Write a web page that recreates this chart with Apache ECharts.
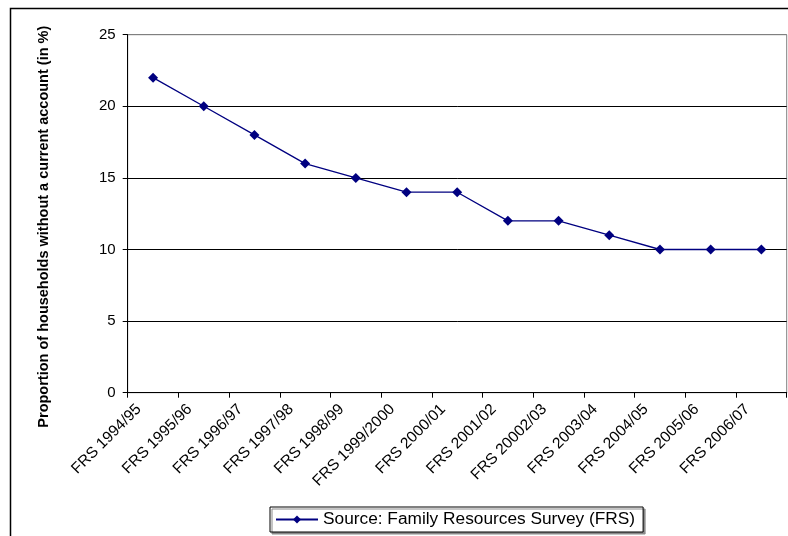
<!DOCTYPE html>
<html style="height: 100%">
<head>
    <meta charset="utf-8">
    <script src="https://cdn.jsdelivr.net/npm/echarts@6/dist/echarts.min.js"></script>
</head>
<body style="height: 100%;margin: 0;background: #fff">
<div id="chart" style="width: 788px;height: 536px;"></div>
<script type="text/javascript">
// survey years and share of households without a current account
var years = ['FRS 1994/95', 'FRS 1995/96', 'FRS 1996/97', 'FRS 1997/98', 'FRS 1998/99',
    'FRS 1999/2000', 'FRS 2000/01', 'FRS 2001/02', 'FRS 20002/03', 'FRS 2003/04',
    'FRS 2004/05', 'FRS 2005/06', 'FRS 2006/07'];
var noAccount = [22, 20, 18, 16, 15, 14, 14, 12, 12, 11, 10, 10, 10];
var seriesName = 'Source: Family Resources Survey (FRS)';
var yTitle = 'Proportion of households without a current account (in %)';

var myChart = echarts.init(document.getElementById('chart'));
var font = 'Liberation Sans, Arial, sans-serif';
var option = {
    animation: false,
    backgroundColor: '#fff',
    // outer chart frame (runs off the right/bottom edge like the original)
    graphic: [{
        type: 'rect',
        shape: {x: 10.5, y: 8.5, width: 900, height: 600},
        style: {fill: 'none', stroke: '#000', lineWidth: 1.5},
        silent: true
    }],
    grid: {
        left: 127.7, top: 34.7, right: 1.3, bottom: 143.3,
        show: true, borderColor: '#808080', borderWidth: 1
    },
    legend: {
        left: 270, top: 507,
        padding: [4, 8, 4, 5],
        itemWidth: 42, itemHeight: 10, itemGap: 6,
        borderColor: '#000', borderWidth: 1,
        backgroundColor: '#fff',
        shadowColor: '#8a8a8a', shadowOffsetX: 2, shadowOffsetY: 2, shadowBlur: 0,
        textStyle: {fontFamily: font, fontSize: 17.3, color: '#000'},
        data: [seriesName]
    },
    xAxis: {
        type: 'category',
        data: years,
        boundaryGap: true,
        axisLine: {lineStyle: {color: '#000', width: 1}},
        axisTick: {show: true, length: 5, lineStyle: {color: '#000'}},
        axisLabel: {interval: 0, rotate: 45, margin: 0, padding: [0, 20, 0, 0],
            fontFamily: font, fontSize: 15.5, color: '#000'},
        splitLine: {show: false}
    },
    yAxis: {
        type: 'value',
        min: 0, max: 25, interval: 5,
        name: yTitle,
        nameLocation: 'middle',
        nameRotate: 90,
        nameGap: 76,
        nameTextStyle: {fontFamily: font, fontSize: 14.5, fontWeight: 'bold', color: '#000',
            padding: [0, 26, 0, 0]},
        axisLine: {show: true, lineStyle: {color: '#000', width: 1}},
        axisTick: {show: true, length: 5, lineStyle: {color: '#000'}},
        axisLabel: {margin: 12, fontFamily: font, fontSize: 15, color: '#000'},
        splitLine: {show: true, lineStyle: {color: ['#000', '#000', '#000', '#000', '#000', '#808080'], width: 1}}
    },
    series: [{
        name: seriesName,
        type: 'line',
        data: noAccount,
        symbol: 'diamond',
        symbolSize: 10,
        lineStyle: {color: '#000080', width: 1.3},
        itemStyle: {color: '#000080'}
    }]
};
myChart.setOption(option);
</script>
</body>
</html>
